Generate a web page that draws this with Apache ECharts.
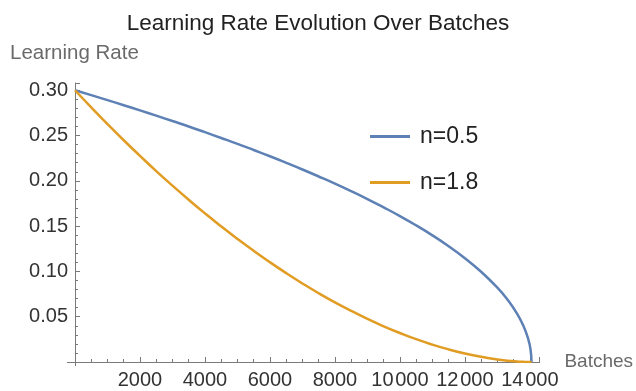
<!DOCTYPE html>
<html>
<head>
<meta charset="utf-8">
<script src="https://cdn.jsdelivr.net/npm/echarts@6/dist/echarts.min.js"></script>
<style>html,body{margin:0;padding:0;background:#fff;}#c{width:636px;height:391px;}</style>
</head>
<body>
<div id="c"></div>
<script>
const batches = [0,500,1000,1500,2000,2500,3000,3500,4000,4500,5000,5500,6000,6500,7000,7500,8000,8500,9000,9500,10000,10500,11000,11500,12000,12500,13000,13300,13600,13800,13950,14020,14050];
const lrN05 = [0.300,0.2946,0.2891,0.2835,0.2778,0.2720,0.2660,0.2600,0.2537,0.2473,0.2408,0.2340,0.2271,0.2199,0.2125,0.2048,0.1969,0.1886,0.1799,0.1707,0.1611,0.1508,0.1398,0.1278,0.1146,0.0996,0.0820,0.0693,0.0537,0.0400,0.0253,0.0139,0];
const lrN18 = [0.300,0.2811,0.2627,0.2448,0.2276,0.2108,0.1947,0.1791,0.1641,0.1497,0.1359,0.1227,0.1101,0.0981,0.0867,0.0759,0.0658,0.0564,0.0476,0.0394,0.0320,0.0252,0.0192,0.0139,0.0094,0.0057,0.0028,0.0015,0.0006,0.0002,0.0000,0.0000,0];
const seriesNames = ['n=0.5','n=1.8'];
const xTicks = [2000,4000,6000,8000,10000,12000,14000];
const yTicks = [0.05,0.10,0.15,0.20,0.25,0.30];

const chart = echarts.init(document.getElementById('c'));
const font = 'Liberation Sans, Arial, sans-serif';
const axisCol = '#7a7a7a';
chart.setOption({
  animation: false,
  title: {text: 'Learning Rate Evolution Over Batches', left: 'center', top: 7,
    textStyle: {fontFamily: font, fontSize: 22.5, fontWeight: 'normal', color: '#222'}},
  legend: {orient: 'vertical', left: 365, top: 120, itemWidth: 40, itemHeight: 3, itemGap: 23,
    icon: 'rect', data: seriesNames,
    textStyle: {fontFamily: font, fontSize: 23, color: '#222', padding: [0,0,0,5]}},
  grid: {left: 75, right: 93, top: 83, bottom: 29},
  xAxis: {type: 'value', min: 0, max: 14300, interval: 2000,
    name: 'Batches', nameLocation: 'end', nameGap: 14,
    nameTextStyle: {fontFamily: font, fontSize: 19, color: '#6a6a6a', verticalAlign: 'middle'},
    axisLine: {lineStyle: {color: axisCol, width: 1}},
    axisTick: {inside: true, length: 5, lineStyle: {color: axisCol}},
    minorTick: {show: true, splitNumber: 4, length: 3, lineStyle: {color: axisCol}},
    splitLine: {show: false},
    axisLabel: {fontFamily: font, fontSize: 20, color: '#333', margin: 8,
      formatter: v => xTicks.includes(v) ? (v >= 10000 ? String(v).slice(0,2) + '\u200A' + String(v).slice(2) : String(v)) : ''}},
  yAxis: {type: 'value', min: 0, max: 0.308, interval: 0.05,
    name: 'Learning Rate', nameLocation: 'end', nameGap: 19,
    nameTextStyle: {fontFamily: font, fontSize: 20.5, color: '#6a6a6a', align: 'left', padding: [0,0,0,-65]},
    axisLine: {show: true, lineStyle: {color: axisCol, width: 1}},
    axisTick: {show: true, inside: true, length: 5, lineStyle: {color: axisCol}},
    minorTick: {show: true, splitNumber: 5, length: 3, lineStyle: {color: axisCol}},
    splitLine: {show: false},
    axisLabel: {fontFamily: font, fontSize: 20, color: '#333', margin: 7,
      formatter: v => { const t = yTicks.find(a => Math.abs(a - v) < 1e-9); return t ? t.toFixed(2) : ''; }}},
  series: [
    {name: seriesNames[0], type: 'line', showSymbol: false, smooth: true,
     data: batches.map((b,i) => [b, lrN05[i]]),
     lineStyle: {color: '#5E81B5', width: 2.5}, itemStyle: {color: '#5E81B5'}},
    {name: seriesNames[1], type: 'line', showSymbol: false, smooth: true,
     data: batches.map((b,i) => [b, lrN18[i]]),
     lineStyle: {color: '#E19C24', width: 2.5}, itemStyle: {color: '#E19C24'}}
  ]
});
// small axis overhangs at the origin, as in the reference
const o = chart.convertToPixel({gridIndex: 0}, [0, 0]);
chart.setOption({graphic: [
  {type: 'line', shape: {x1: o[0] - 8, y1: o[1] + 0.5, x2: o[0], y2: o[1] + 0.5}, style: {stroke: axisCol, lineWidth: 1}, silent: true},
  {type: 'line', shape: {x1: o[0] + 0.5, y1: o[1], x2: o[0] + 0.5, y2: o[1] + 4}, style: {stroke: axisCol, lineWidth: 1}, silent: true}
]});
</script>
</body>
</html>
